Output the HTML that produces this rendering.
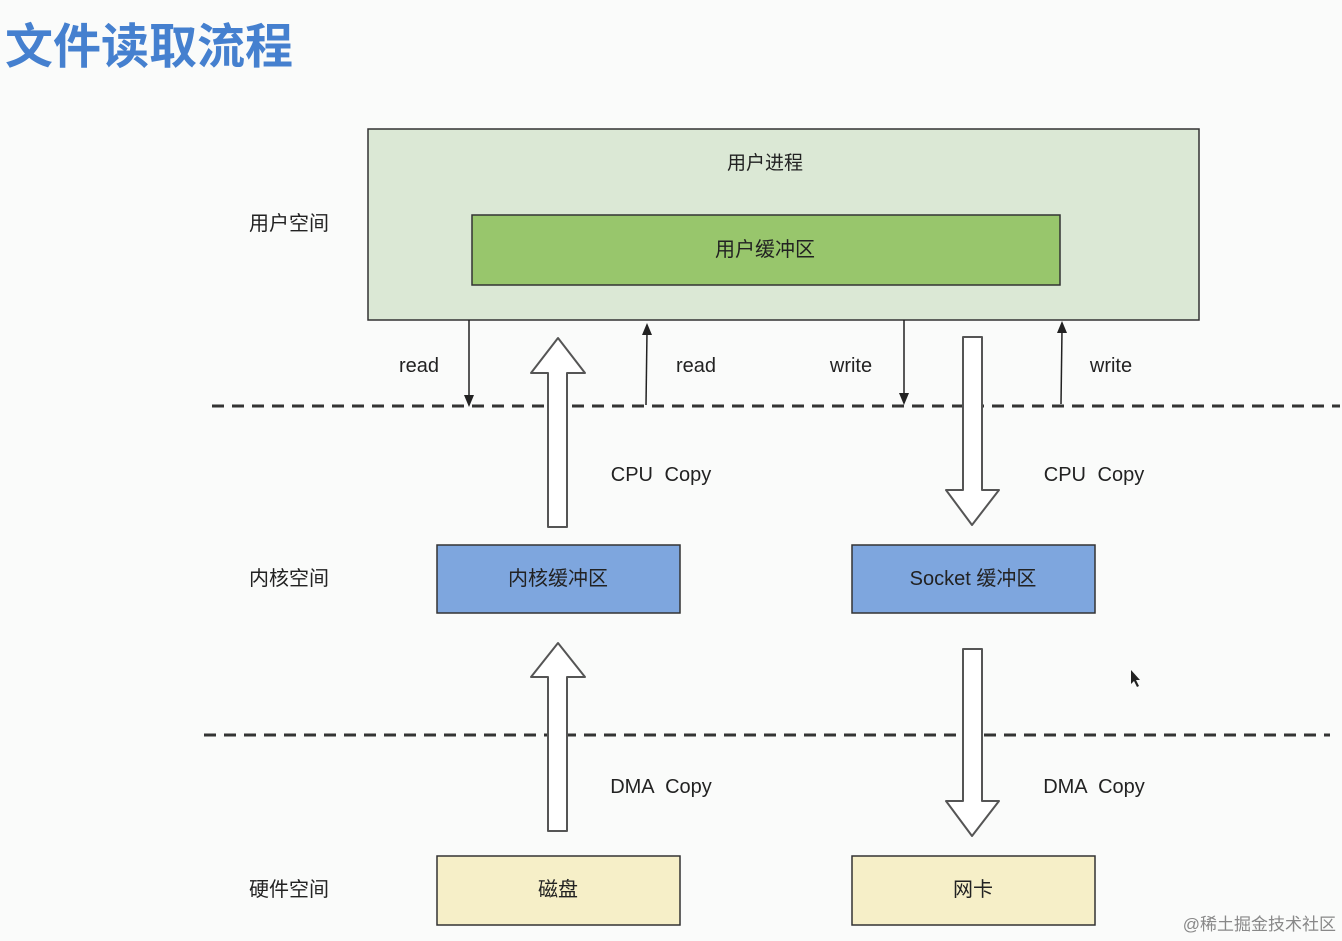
<!DOCTYPE html>
<html><head><meta charset="utf-8"><style>
html,body{margin:0;padding:0;background:#fafbfa;}
svg{display:block;}
text{font-family:"Liberation Sans","Noto Sans CJK SC",sans-serif;}
</style></head><body>
<svg width="1342" height="941" viewBox="0 0 1342 941" xmlns="http://www.w3.org/2000/svg">
<rect width="1342" height="941" fill="#fafbfa"/>
<text x="5" y="63" font-size="48" font-weight="bold" fill="#4580cf">文件读取流程</text>

<rect x="368" y="129" width="831" height="191" fill="#dbe8d5" stroke="#333" stroke-width="1.5"/>
<text x="765" y="169" font-size="19" text-anchor="middle" fill="#222">用户进程</text>
<rect x="472" y="215" width="588" height="70" fill="#98c66c" stroke="#333" stroke-width="1.5"/>
<text x="765" y="256" font-size="20" text-anchor="middle" fill="#222">用户缓冲区</text>

<g font-size="20" fill="#222" text-anchor="middle">
<text x="289" y="230">用户空间</text>
<text x="289" y="585">内核空间</text>
<text x="289" y="896">硬件空间</text>
</g>

<g stroke="#333" stroke-width="3" stroke-dasharray="12,8">
<line x1="212" y1="406" x2="1340" y2="406"/>
<line x1="204" y1="735" x2="1330" y2="735"/>
</g>

<rect x="437" y="545" width="243" height="68" fill="#7ea6de" stroke="#333" stroke-width="1.5"/>
<text x="558" y="585" font-size="20" text-anchor="middle" fill="#222">内核缓冲区</text>
<rect x="852" y="545" width="243" height="68" fill="#7ea6de" stroke="#333" stroke-width="1.5"/>
<text x="973" y="585" font-size="20" text-anchor="middle" fill="#222">Socket 缓冲区</text>
<rect x="437" y="856" width="243" height="69" fill="#f6efc8" stroke="#333" stroke-width="1.5"/>
<text x="558" y="896" font-size="20" text-anchor="middle" fill="#222">磁盘</text>
<rect x="852" y="856" width="243" height="69" fill="#f6efc8" stroke="#333" stroke-width="1.5"/>
<text x="973" y="896" font-size="20" text-anchor="middle" fill="#222">网卡</text>

<g fill="#fff" stroke="#555" stroke-width="2" stroke-linejoin="round">
<polygon points="548,527 567,527 567,373 585,373 558,338 531,373 548,373"/>
<polygon points="548,831 567,831 567,677 585,677 558,643 531,677 548,677"/>
<polygon points="963,337 982,337 982,490 999,490 972,525 946,490 963,490"/>
<polygon points="963,649 982,649 982,801 999,801 972,836 946,801 963,801"/>
</g>

<g stroke="#222" stroke-width="1.5">
<line x1="469" y1="320" x2="469" y2="398"/>
<line x1="646" y1="405" x2="647" y2="332"/>
<line x1="904" y1="320" x2="904" y2="396"/>
<line x1="1061" y1="404" x2="1062" y2="330"/>
</g>
<g fill="#222">
<polygon points="464,395 474,395 469,407"/>
<polygon points="642,335 652,335 647,323"/>
<polygon points="899,393 909,393 904,405"/>
<polygon points="1057,333 1067,333 1062,321"/>
</g>

<g font-size="20" fill="#222" text-anchor="middle" word-spacing="6">
<text x="419" y="372">read</text>
<text x="696" y="372">read</text>
<text x="851" y="372">write</text>
<text x="1111" y="372">write</text>
<text x="661" y="481">CPU Copy</text>
<text x="1094" y="481">CPU Copy</text>
<text x="661" y="793">DMA Copy</text>
<text x="1094" y="793">DMA Copy</text>
</g>

<polygon points="1131,670 1131,684 1134,681 1137,687 1139,686 1136,680 1140,680" fill="#222"/>

<text x="1336" y="930" font-size="17" text-anchor="end" fill="#888">@稀土掘金技术社区</text>
</svg>
</body></html>
